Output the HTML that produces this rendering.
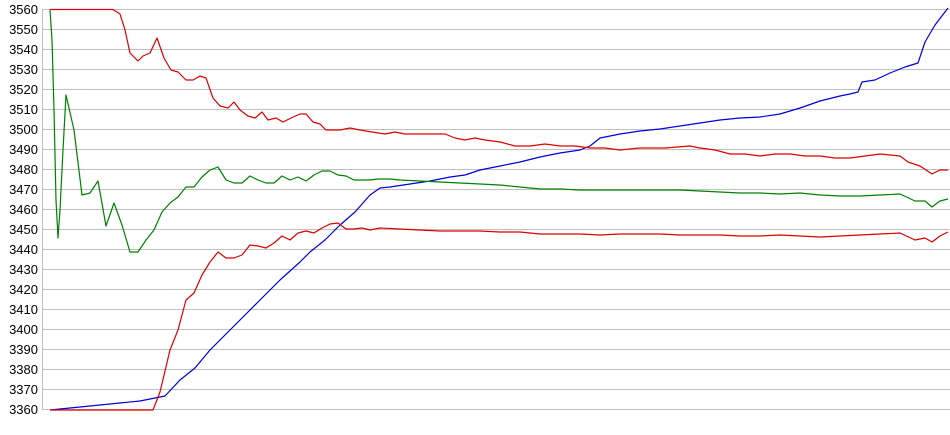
<!DOCTYPE html>
<html><head><meta charset="utf-8"><style>
html,body{margin:0;padding:0;background:#fff;}
svg{display:block;}
text{font-family:"Liberation Sans",Arial,sans-serif;font-size:13px;fill:#000;}
</style></head><body>
<svg width="950" height="435" viewBox="0 0 950 435" xmlns="http://www.w3.org/2000/svg">
<g stroke="#c0c0c0" stroke-width="1">
<line x1="42" x2="950" y1="9.5" y2="9.5"/><line x1="42" x2="950" y1="29.5" y2="29.5"/><line x1="42" x2="950" y1="49.5" y2="49.5"/><line x1="42" x2="950" y1="69.5" y2="69.5"/><line x1="42" x2="950" y1="89.5" y2="89.5"/><line x1="42" x2="950" y1="109.5" y2="109.5"/><line x1="42" x2="950" y1="129.5" y2="129.5"/><line x1="42" x2="950" y1="149.5" y2="149.5"/><line x1="42" x2="950" y1="169.5" y2="169.5"/><line x1="42" x2="950" y1="189.5" y2="189.5"/><line x1="42" x2="950" y1="209.5" y2="209.5"/><line x1="42" x2="950" y1="229.5" y2="229.5"/><line x1="42" x2="950" y1="249.5" y2="249.5"/><line x1="42" x2="950" y1="269.5" y2="269.5"/><line x1="42" x2="950" y1="289.5" y2="289.5"/><line x1="42" x2="950" y1="309.5" y2="309.5"/><line x1="42" x2="950" y1="329.5" y2="329.5"/><line x1="42" x2="950" y1="349.5" y2="349.5"/><line x1="42" x2="950" y1="369.5" y2="369.5"/><line x1="42" x2="950" y1="389.5" y2="389.5"/><line x1="42" x2="950" y1="409.5" y2="409.5"/>
<line x1="42.5" x2="42.5" y1="9" y2="410"/>
</g>
<g text-anchor="end">
<text x="38" y="14">3560</text><text x="38" y="34">3550</text><text x="38" y="54">3540</text><text x="38" y="74">3530</text><text x="38" y="94">3520</text><text x="38" y="114">3510</text><text x="38" y="134">3500</text><text x="38" y="154">3490</text><text x="38" y="174">3480</text><text x="38" y="194">3470</text><text x="38" y="214">3460</text><text x="38" y="234">3450</text><text x="38" y="254">3440</text><text x="38" y="274">3430</text><text x="38" y="294">3420</text><text x="38" y="314">3410</text><text x="38" y="334">3400</text><text x="38" y="354">3390</text><text x="38" y="374">3380</text><text x="38" y="394">3370</text><text x="38" y="414">3360</text>
</g>
<g fill="none" stroke-width="1.2" stroke-linejoin="round">
<polyline stroke="#0000dd" points="50,410 60,409 80,407 100,405 120,403 140,401 160,397 165,396 180,380 195,368 210,350 225,335 245,315 260,300 280,280 300,262 310,252 325,240 340,225 355,212 370,195 380,188 390,187 410,184 430,181 450,177 465,175 480,170 500,166 520,162 540,157 560,153 580,150 590,146 600,138 620,134 640,131 660,129 680,126 700,123 720,120 740,118 760,117 780,114 800,108 820,101 840,96 850,94 858,92 862,82 875,80 890,73 905,67 918,63 925,42 935,25 948,8"/>
<polyline stroke="#008000" points="50,10 52,40 54,110 56,200 58,238 60,210 63,150 66,95 74,130 82,195 90,193 98,181 106,226 114,203 122,225 130,252 138,252 146,240 154,230 162,212 170,203 178,197 186,187 194,187 202,177 210,170 218,167 226,180 234,183 242,183 250,176 258,180 266,183 274,183 282,176 290,180 298,177 306,181 314,175 322,171 330,171 338,175 346,176 354,180 362,180 370,180 378,179 390,179 400,180 420,181 440,182 460,183 480,184 500,185 520,187 540,189 560,189 580,190 600,190 620,190 640,190 660,190 680,190 700,191 720,192 740,193 760,193 780,194 800,193 820,195 840,196 860,196 880,195 900,194 915,201 925,201 932,207 940,201 948,199"/>
<polyline stroke="#dd0000" points="50,9.5 113,9.5 120,14 125,30 130,53 138,61 143,56 150,53 157,38 164,58 171,70 178,72 186,80 193,80 200,76 206,78 213,98 220,106 228,108 234,102 240,110 248,116 255,118 262,112 268,120 276,118 283,122 291,118 300,114 306,114 313,122 320,124 326,130 340,130 350,128 360,130 372,132 385,134 395,132 405,134 415,134 425,134 445,134 455,138 465,140 475,138 485,140 500,142 515,146 530,146 545,144 560,146 575,146 590,148 605,148 620,150 640,148 665,148 690,146 700,148 715,150 730,154 745,154 760,156 775,154 790,154 805,156 820,156 835,158 850,158 865,156 880,154 900,156 908,162 920,166 932,174 940,170 948,170"/>
<polyline stroke="#dd0000" points="50,410 153,410 160,392 170,350 178,330 186,300 194,293 202,275 210,262 218,252 226,258 234,258 242,255 250,245 258,246 266,248 274,243 282,236 290,240 298,233 306,231 314,233 322,228 330,224 338,223 346,229 354,229 362,228 370,230 380,228 400,229 420,230 440,231 460,231 480,231 500,232 520,232 540,234 560,234 580,234 600,235 620,234 640,234 660,234 680,235 700,235 720,235 740,236 760,236 780,235 800,236 820,237 840,236 860,235 880,234 900,233 915,240 925,238 932,242 940,236 948,232"/>
</g>
</svg>
</body></html>
